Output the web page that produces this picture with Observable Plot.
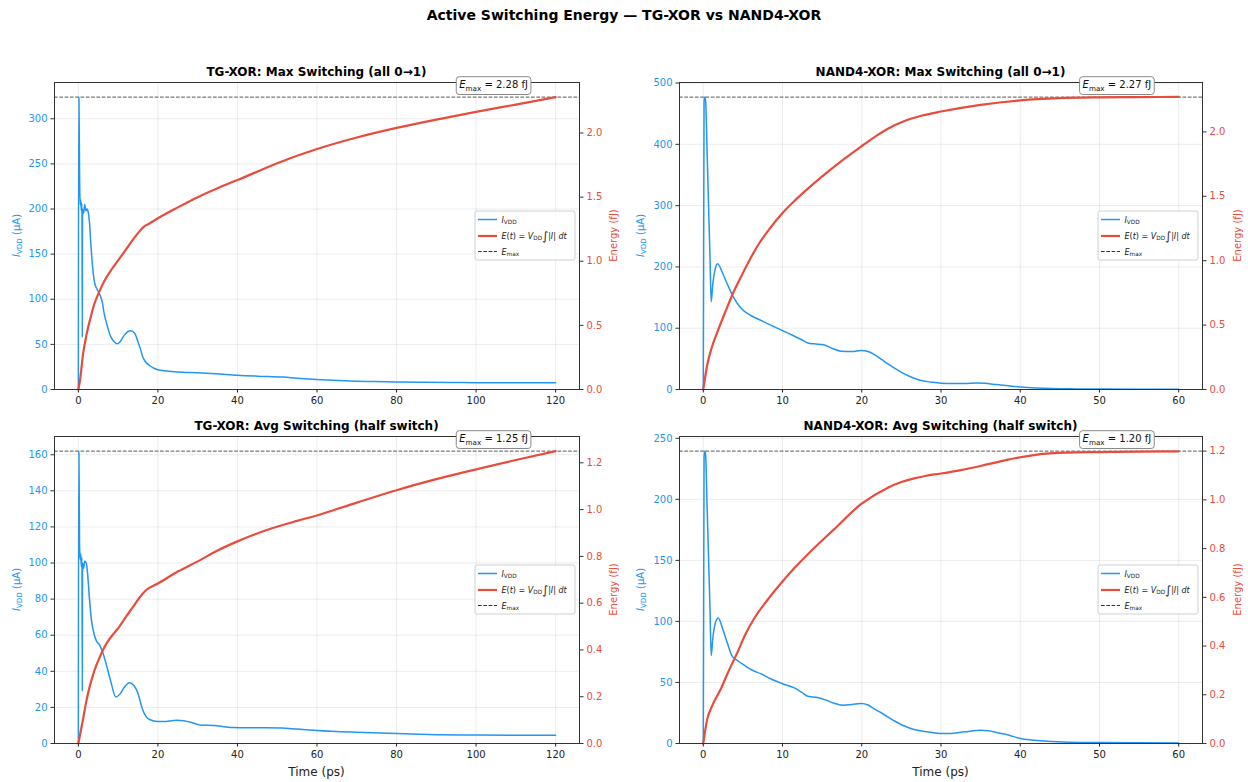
<!DOCTYPE html>
<html><head><meta charset="utf-8">
<script src="https://cdn.jsdelivr.net/npm/d3@7"></script>
<script src="https://cdn.jsdelivr.net/npm/@observablehq/plot@0.6"></script>
<style>
body{margin:0;background:#fff;font-family:"DejaVu Sans",sans-serif;}
#root{position:relative;width:1248px;height:782px;overflow:hidden;background:#fff}
#title{position:absolute;left:0;top:6px;width:1248px;text-align:center;font-weight:bold;font-size:14px;line-height:18px;color:#000}
.panel{position:absolute}
</style></head><body>
<div id="root"><div id="title">Active Switching Energy — TG-XOR vs NAND4-XOR</div></div>
<script>
// ---------- data ----------
const panelTitles = [
  "TG-XOR: Max Switching (all 0→1)",
  "NAND4-XOR: Max Switching (all 0→1)",
  "TG-XOR: Avg Switching (half switch)",
  "NAND4-XOR: Avg Switching (half switch)"
];
const eMaxValues = [2.28, 2.27, 1.25, 1.20];
const iPeakValues = [324, 477, 162, 239.5];
const tMaxValues = [120, 60, 120, 60];

const ticksX120 = [0, 20, 40, 60, 80, 100, 120];
const ticksX60 = [0, 10, 20, 30, 40, 50, 60];
const ticksI_tgMax = [0, 50, 100, 150, 200, 250, 300];
const ticksI_nandMax = [0, 100, 200, 300, 400, 500];
const ticksI_tgAvg = [0, 20, 40, 60, 80, 100, 120, 140, 160];
const ticksI_nandAvg = [0, 50, 100, 150, 200, 250];
const ticksE_max = [0, 0.5, 1.0, 1.5, 2.0];
const ticksE_avg = [0, 0.2, 0.4, 0.6, 0.8, 1.0, 1.2];

// TG-XOR max switching: supply current (µA)
const tgMaxTimeI = [0, 0.08, 0.15, 0.3, 0.45, 0.6, 0.75, 0.9, 1.0, 1.05, 1.3, 1.6, 1.9, 2.2, 2.5, 2.8, 3.2, 3.6, 4.0, 4.6, 5.3, 6.0, 6.5, 7.3, 8.2, 9.0, 9.7, 10.5, 11.5, 12.4, 13.2, 14.2, 14.9, 15.6, 16.2, 17.0, 17.9, 19, 20, 22, 24, 26.2, 30, 34.6, 40, 45, 51.5, 55, 59.8, 64, 68.2, 74, 80, 86, 93.3, 100, 110, 120];
const tgMaxI = [0, 324, 322, 240, 205, 210, 198, 206, 58, 200, 195, 205, 198, 200, 196, 185, 157, 135, 120, 112, 106, 97, 84, 70, 58, 53, 50.6, 53, 60, 64, 65, 62, 54, 45, 36, 30, 26.6, 23.5, 21.8, 20.5, 19.8, 19.2, 18.5, 17.4, 15.8, 14.8, 13.8, 12.6, 11.2, 10.2, 9.5, 8.8, 8.3, 8.0, 7.7, 7.6, 7.5, 7.4];
// TG-XOR max switching: cumulative energy (fJ)
const tgMaxTimeE = [0, 0.4, 1.2, 2, 2.9, 4, 5.3, 6.5, 8, 9.5, 11, 12.5, 14, 15.4, 16.5, 17.9, 20, 25, 30, 35, 40, 50, 60, 70, 80, 90, 100, 110, 120];
const tgMaxE = [0, 0.07, 0.28, 0.42, 0.54, 0.665, 0.765, 0.845, 0.92, 0.985, 1.05, 1.115, 1.18, 1.235, 1.27, 1.295, 1.335, 1.42, 1.50, 1.57, 1.633, 1.765, 1.875, 1.965, 2.04, 2.105, 2.165, 2.222, 2.28];

// NAND4-XOR max switching
const nandMaxTimeI = [0, 0.1, 0.2, 0.3, 0.5, 0.7, 0.85, 1.0, 1.2, 1.46, 1.8, 2.5, 3.1, 3.7, 4.8, 5.8, 6.9, 8.5, 10, 11.2, 12.3, 13.2, 14, 15.2, 16.3, 17.4, 18.8, 19.9, 20.8, 21.6, 22.5, 23.5, 25, 26.3, 27.5, 28.8, 30, 31.5, 33, 34.5, 35.5, 37, 38.5, 40, 42, 44, 47, 50, 55, 60];
const nandMaxI = [0, 470, 477, 470, 380, 285, 215, 143, 172, 194, 205, 188, 170, 153, 132, 122, 115, 105, 96, 89, 82, 76, 74.5, 73, 67, 62.5, 62, 63.7, 62, 57, 49, 40, 28, 20, 14.7, 12, 10.3, 9.8, 9.8, 10.5, 10, 8, 6, 4.2, 2.6, 1.6, 1, 0.7, 0.4, 0.3];
const nandMaxTimeE = [0, 0.5, 1.04, 1.8, 2.7, 3.7, 4.8, 5.8, 6.9, 8.4, 10, 11.6, 13.2, 15.2, 17.35, 19.9, 21.6, 23.3, 25.4, 27.5, 30, 35, 40, 45, 50, 55, 60];
const nandMaxE = [0, 0.19, 0.32, 0.45, 0.59, 0.74, 0.88, 1.0, 1.12, 1.25, 1.37, 1.47, 1.56, 1.665, 1.77, 1.885, 1.96, 2.025, 2.085, 2.125, 2.158, 2.21, 2.245, 2.262, 2.268, 2.27, 2.272];

// TG-XOR average switching
const tgAvgTimeI = [0, 0.08, 0.15, 0.3, 0.45, 0.6, 0.75, 0.9, 1.0, 1.05, 1.3, 1.6, 2.0, 2.4, 2.8, 3.2, 3.7, 4.5, 5.4, 6.2, 7.0, 8.2, 9.4, 10.5, 11.5, 12.9, 14.0, 15.0, 15.6, 16.2, 17.0, 17.9, 20, 22, 24.6, 26.5, 28.8, 30.5, 34, 38.8, 43, 47, 51, 55, 60, 70, 80, 90, 100, 110, 120];
const tgAvgI = [0, 162, 160, 110, 102, 105, 98, 103, 29, 100, 97, 101, 100, 92, 80, 70, 63, 57, 54.4, 50, 44, 34, 25.8, 27.5, 31, 33.6, 32, 27.7, 23, 18.5, 15, 13.3, 12.2, 12.2, 12.9, 12.6, 11.4, 10.3, 10, 8.9, 8.7, 8.7, 8.6, 8.0, 7.2, 6.2, 5.5, 4.9, 4.7, 4.6, 4.6];
const tgAvgTimeE = [0, 0.4, 1.2, 2, 2.8, 4, 5.4, 6.5, 7.9, 9, 10.4, 12, 13.7, 15.4, 17, 20, 25, 30.5, 35, 39.7, 47.2, 55, 60, 70, 80, 90, 100, 110, 120];
const tgAvgE = [0, 0.035, 0.106, 0.18, 0.24, 0.31, 0.37, 0.41, 0.448, 0.472, 0.502, 0.542, 0.583, 0.624, 0.655, 0.684, 0.735, 0.783, 0.825, 0.862, 0.912, 0.952, 0.975, 1.03, 1.083, 1.13, 1.172, 1.212, 1.25];

// NAND4-XOR average switching
const nandAvgTimeI = [0, 0.1, 0.2, 0.3, 0.5, 0.7, 0.85, 1.0, 1.2, 1.46, 1.88, 2.5, 3.1, 3.6, 4.3, 5.2, 6.2, 7.3, 8.5, 10, 11.5, 12.4, 13.2, 14.4, 15.5, 16.5, 17.6, 18.8, 19.9, 20.8, 21.5, 22.5, 24, 25.3, 26.6, 28, 29.9, 31, 33, 35, 36, 37, 38.5, 40, 41.5, 43.3, 46, 50, 55, 60];
const nandAvgI = [0, 235, 239.5, 236, 190, 145, 110, 72, 86, 97, 102.8, 93, 81, 72, 68, 64, 60, 57, 53, 49, 45.5, 42, 38.7, 37.6, 35.5, 33, 31.4, 32, 32.7, 31.5, 28.6, 25, 19, 14.5, 11.5, 9.8, 8.2, 8.2, 9.6, 10.9, 10.5, 9, 7, 4.1, 2.8, 1.9, 1.1, 0.8, 0.6, 0.5];
const nandAvgTimeE = [0, 0.5, 1.05, 2.3, 3.1, 4.4, 5.2, 6.5, 8, 10, 11.5, 13.2, 16.5, 19.9, 23.3, 25, 26.6, 28, 30, 32.5, 35, 37.5, 40, 43.3, 46, 50, 55, 60];
const nandAvgE = [0, 0.1, 0.149, 0.23, 0.29, 0.38, 0.44, 0.517, 0.585, 0.665, 0.72, 0.777, 0.879, 0.982, 1.05, 1.073, 1.088, 1.098, 1.108, 1.122, 1.139, 1.158, 1.175, 1.19, 1.194, 1.196, 1.198, 1.199];

// ---------- layout ----------
const BLUE = "#2196F3", RED = "#E74C3C", INK = "#222";
const FONT = "DejaVu Sans";
const rows = (ts, vs) => ts.map((t, i) => ({t, v: vs[i]}));

const panels = [
  {left: 0,   top: 40,  h: 380, mt: 42, mb: 31, ml: 54, mr: 45, xTicks: ticksX120, iTicks: ticksI_tgMax,   eTicks: ticksE_max, tI: tgMaxTimeI,   I: tgMaxI,   tE: tgMaxTimeE,   E: tgMaxE,   xLabel: false},
  {left: 624, top: 40,  h: 380, mt: 42, mb: 31, ml: 55, mr: 46, xTicks: ticksX60,  iTicks: ticksI_nandMax, eTicks: ticksE_max, tI: nandMaxTimeI, I: nandMaxI, tE: nandMaxTimeE, E: nandMaxE, xLabel: false},
  {left: 0,   top: 420, h: 362, mt: 16, mb: 39, ml: 54, mr: 45, xTicks: ticksX120, iTicks: ticksI_tgAvg,   eTicks: ticksE_avg, tI: tgAvgTimeI,   I: tgAvgI,   tE: tgAvgTimeE,   E: tgAvgE,   xLabel: true},
  {left: 624, top: 420, h: 362, mt: 16, mb: 39, ml: 55, mr: 46, xTicks: ticksX60,  iTicks: ticksI_nandAvg, eTicks: ticksE_avg, tI: nandAvgTimeI, I: nandAvgI, tE: nandAvgTimeE, E: nandAvgE, xLabel: true}
];

function rich(sel, parts, base) {
  let shift = 0;
  parts.forEach(([s, st]) => {
    const t = sel.append("tspan").text(s);
    let target = 0;
    if (st === "it") t.attr("font-style", "italic");
    if (st === "sub") { t.attr("font-size", base * 0.72); target = base * 0.28; }
    if (st === "big") t.attr("font-size", base * 1.45);
    const dy = target - shift;
    if (dy) t.attr("dy", dy);
    shift = target;
  });
}

const root = document.getElementById("root");

panels.forEach((p, idx) => {
  const W = 624;
  const tMax = tMaxValues[idx], eMax = eMaxValues[idx], iPeak = iPeakValues[idx];
  const iTop = iPeak * 1.05, eTop = eMax * 1.05, k = iTop / eTop;
  const fw = W - p.ml - p.mr, fh = p.h - p.mt - p.mb;
  const grid = {stroke: "#b0b0b0", strokeOpacity: 0.3, strokeWidth: 0.8};

  const svg = Plot.plot({
    width: W, height: p.h,
    marginLeft: p.ml, marginRight: p.mr, marginTop: p.mt, marginBottom: p.mb,
    style: {fontFamily: FONT, fontSize: "10px", background: "transparent", overflow: "visible"},
    x: {domain: [-0.05 * tMax, 1.05 * tMax]},
    y: {domain: [0, iTop]},
    marks: [
      Plot.gridX(p.xTicks, grid),
      Plot.gridY(p.iTicks, grid),
      Plot.ruleY([eMax], {y: d => d * k, stroke: "#555", strokeWidth: 1, strokeDasharray: "3.7,1.6"}),
      Plot.line(rows(p.tI, p.I), {x: "t", y: "v", stroke: BLUE, strokeWidth: 1.5, curve: "monotone-x"}),
      Plot.line(rows(p.tE, p.E), {x: "t", y: d => d.v * k, stroke: RED, strokeWidth: 2.2, curve: "monotone-x"}),
      Plot.frame({stroke: "#333", strokeWidth: 1}),
      Plot.axisX(p.xTicks, {tickSize: 3.5, tickPadding: 3.5, color: INK, fontSize: 10, label: null}),
      Plot.axisY(p.iTicks, {anchor: "left", tickSize: 3.5, tickFormat: () => "", color: "#333", label: null}),
      Plot.axisY(p.iTicks, {anchor: "left", tickSize: 0, tickPadding: 7, color: BLUE, fontSize: 10, label: null}),
      Plot.axisY(p.eTicks.map(e => e * k), {anchor: "right", tickSize: 3.5, tickFormat: () => "", color: "#333", label: null}),
      Plot.axisY(p.eTicks.map(e => e * k), {anchor: "right", tickSize: 0, tickPadding: 7, color: RED, fontSize: 10, label: null, tickFormat: d => d3.format(".1f")(d / k)}),
      Plot.text([eMax], {x: tMax * 0.87, frameAnchor: "top", lineAnchor: "middle", dy: 2, text: d => `Emax = ${d.toFixed(2)} fJ`, fontSize: 10, fill: "#111"})
    ]
  });

  const div = document.createElement("div");
  div.className = "panel";
  div.style.left = p.left + "px";
  div.style.top = p.top + "px";
  div.appendChild(svg);
  root.appendChild(div);

  const s = d3.select(svg);
  const fL = p.ml, fR = W - p.mr, fT = p.mt, fB = p.h - p.mb, cy = fT + fh / 2;

  // panel title
  s.append("text").attr("x", fL + fw / 2).attr("y", fT - 6.5)
    .attr("text-anchor", "middle").attr("font-weight", "bold").attr("font-size", 12)
    .attr("fill", "#000").attr("font-family", FONT).text(panelTitles[idx]);

  // left axis label
  const ll = s.append("text").attr("transform", `translate(16,${cy}) rotate(-90)`)
    .attr("text-anchor", "middle").attr("dominant-baseline", "central")
    .attr("font-size", 10).attr("fill", BLUE).attr("font-family", FONT);
  rich(ll, [["I", "it"], ["VDD", "sub"], [" (μA)", ""]], 10);

  // right axis label
  s.append("text").attr("transform", `translate(613,${cy}) rotate(-90)`)
    .attr("text-anchor", "middle").attr("dominant-baseline", "central")
    .attr("font-size", 10).attr("fill", RED).attr("font-family", FONT).text("Energy (fJ)");

  if (p.xLabel) {
    s.append("text").attr("x", fL + fw / 2).attr("y", fB + 33)
      .attr("text-anchor", "middle").attr("font-size", 12).attr("fill", INK)
      .attr("font-family", FONT).text("Time (ps)");
  }

  // Emax annotation with box
  const annNode = Array.from(svg.querySelectorAll("text")).find(t => t.textContent.startsWith("Emax"));
  if (annNode) {
    const ann = d3.select(annNode);
    ann.text("");
    rich(ann, [["E", "it"], ["max", "sub"], [` = ${eMax.toFixed(2)} fJ`, ""]], 10);
    const bb = annNode.getBBox();
    const r = document.createElementNS("http://www.w3.org/2000/svg", "rect");
    annNode.parentNode.insertBefore(r, annNode);
    d3.select(r).attr("x", bb.x - 3).attr("y", bb.y - 2).attr("width", bb.width + 6).attr("height", bb.height + 4)
      .attr("rx", 3).attr("fill", "#fff").attr("stroke", "#8a8a8a").attr("stroke-width", 1);
    if (ann.attr("transform")) d3.select(r).attr("transform", ann.attr("transform"));
  }

  // legend
  const lw = 100, lh = 49;
  const lg = s.append("g").attr("transform", `translate(${fR - 4 - lw},${cy - lh / 2})`)
    .attr("font-family", FONT).attr("text-anchor", "start");
  lg.append("rect").attr("width", lw).attr("height", lh).attr("rx", 2)
    .attr("fill", "#fff").attr("fill-opacity", 0.85).attr("stroke", "#d0d0d0");
  const rowsY = [8.5, 25, 40.5];
  lg.append("line").attr("x1", 3).attr("x2", 22).attr("y1", rowsY[0]).attr("y2", rowsY[0]).attr("stroke", BLUE).attr("stroke-width", 1.5);
  lg.append("line").attr("x1", 3).attr("x2", 22).attr("y1", rowsY[1]).attr("y2", rowsY[1]).attr("stroke", RED).attr("stroke-width", 2.2);
  lg.append("line").attr("x1", 3).attr("x2", 22).attr("y1", rowsY[2]).attr("y2", rowsY[2]).attr("stroke", "#333").attr("stroke-width", 1).attr("stroke-dasharray", "3.7,1.6");
  const lt = (y) => lg.append("text").attr("x", 26.5).attr("y", y).attr("text-anchor", "start")
    .attr("dominant-baseline", "central").attr("font-size", 8).attr("fill", INK);
  rich(lt(rowsY[0]), [["I", "it"], ["VDD", "sub"]], 8);
  rich(lt(rowsY[1]), [["E", "it"], ["(", ""], ["t", "it"], [") = ", ""], ["V", "it"], ["DD", "sub"], ["∫", "big"], ["|", ""], ["I", "it"], ["| ", ""], ["dt", "it"]], 8);
  rich(lt(rowsY[2]), [["E", "it"], ["max", "sub"]], 8);
});
</script>
</body></html>
